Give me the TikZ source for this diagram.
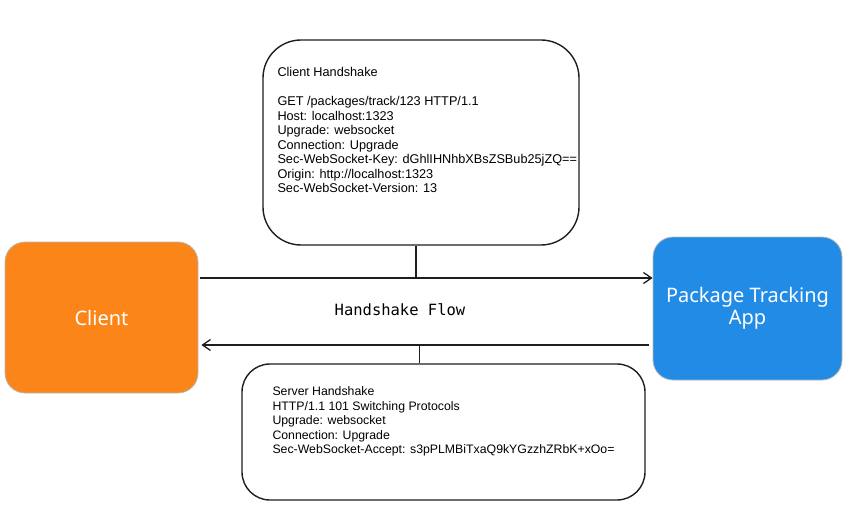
\documentclass[tikz,border=0pt]{standalone}
\usepackage{fontspec}
\setmainfont{Liberation Sans}
\setmonofont{DejaVu Sans Mono}
\newfontfamily\handfont{Noto Sans}
\usepackage{tikz}
\usetikzlibrary{arrows.meta, positioning, calc}
\usepackage{xcolor}
\definecolor{clientcol}{HTML}{FB8518}
\definecolor{appcol}{HTML}{228BE6}
\definecolor{edgecol}{HTML}{B8B8B8}
\definecolor{arrowcol}{HTML}{1E1E1E}

\begin{document}
\begin{tikzpicture}[
    x=1pt, y=-1pt,
    >={Straight Barb[length=8pt, width=11pt]},
    actor/.style={
        draw=edgecol, line width=0.8pt, rounded corners=20pt,
        align=center, text=white, font=\handfont\fontsize{20}{22}\selectfont
    },
    msgbox/.style={
        draw=arrowcol, fill=white, line width=1.4pt
    },
    msgtext/.style={
        inner sep=0pt, align=left, font=\fontsize{12.3}{14.5}\selectfont
    },
    flow/.style={
        ->, draw=arrowcol, line width=1.3pt
    },
]
\useasboundingbox (0,0) rectangle (860,524);

% ── Nodes ──
\node[actor, fill=clientcol, minimum width=193pt, minimum height=151pt]
    (client) at (101.5,317.5) {Client};
\node[actor, fill=appcol, minimum width=189pt, minimum height=143pt]
    (app) at (747.5,308.5) {Package Tracking\\App};

\node[msgbox, rounded corners=38pt, minimum width=316pt, minimum height=205pt]
    (chs) at (421,142.5) {};
\node[msgbox, rounded corners=28pt, minimum width=403pt, minimum height=136pt]
    (shs) at (443.5,432) {};

% ── Handshake texts ──
\node[msgtext, font=\fontsize{12.7}{14.5}\selectfont,
      below right=28pt and 15pt of chs.north west] (chstext)
    {Client Handshake\\[14.5pt]
     GET /packages/track/123 HTTP/1.1\\
     Host: localhost:1323\\
     Upgrade: websocket\\
     Connection: Upgrade\\
     Sec-WebSocket-Key: dGhlIHNhbXBsZSBub25jZQ==\\
     Origin: http://localhost:1323\\
     Sec-WebSocket-Version: 13};

\node[msgtext, below right=23.5pt and 31pt of shs.north west] (shstext)
    {Server Handshake\\
     HTTP/1.1 101 Switching Protocols\\
     Upgrade: websocket\\
     Connection: Upgrade\\
     Sec-WebSocket-Accept: s3pPLMBiTxaQ9kYGzzhZRbK+xOo=};

\node[font=\ttfamily\fontsize{15.5}{18}\selectfont] (flowlabel) at (400,310)
    {Handshake Flow};

% ── Flow arrows ──
\coordinate (reqL) at ([xshift=2pt, yshift=39.5pt]client.east);
\coordinate (resL) at ([xshift=3pt, yshift=-27.5pt]client.east);
\draw[flow] (reqL) -- (reqL -| app.west);
\draw[flow] ([xshift=-4pt]resL -| app.west) -- (resL);

% ── Links to the handshake boxes ──
\draw[arrowcol, line width=1.4pt] ([xshift=-5pt]chs.south) -- ([xshift=-5pt]chs.south |- reqL);
\draw[arrowcol, line width=1.4pt] ([xshift=-24pt]shs.north) -- ([xshift=-24pt]shs.north |- resL);

\end{tikzpicture}
\end{document}
